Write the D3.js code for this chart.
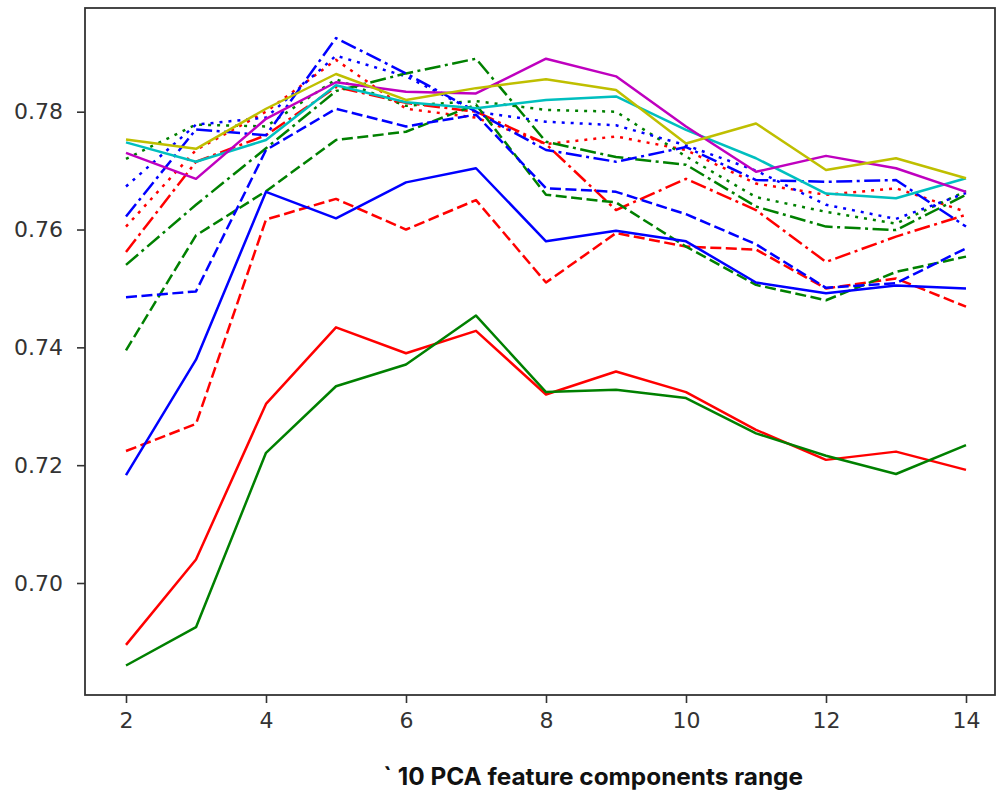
<!DOCTYPE html>
<html>
<head>
<meta charset="utf-8">
<script src="https://cdn.jsdelivr.net/npm/d3@7"></script>
<style>
  body { margin: 0; background: #fff; }
  svg { display: block; }
  .tick text { font-family: "DejaVu Sans", sans-serif; font-size: 22px; fill: #333; }
  .tick line { stroke: #333; stroke-width: 1.6; }
  .xtitle { font-family: Inter, Lato, sans-serif; font-weight: bold; font-size: 24px; fill: #111; }
</style>
</head>
<body>
<svg width="999" height="793"></svg>
<script>
// PCA components on x, one accuracy series per colour / line style
const components = [2, 3, 4, 5, 6, 7, 8, 9, 10, 11, 12, 13, 14];
const xTicks = [2, 4, 6, 8, 10, 12, 14];
const yTicks = [0.70, 0.72, 0.74, 0.76, 0.78];

const redSolid     = [0.6895, 0.7040, 0.7304, 0.7434, 0.7390, 0.7428, 0.7320, 0.7359, 0.7324, 0.7260, 0.7209, 0.7223, 0.7192];
const greenSolid   = [0.6860, 0.6925, 0.7221, 0.7334, 0.7371, 0.7454, 0.7324, 0.7328, 0.7314, 0.7254, 0.7216, 0.7185, 0.7234];
const blueSolid    = [0.7183, 0.7379, 0.7664, 0.7619, 0.7680, 0.7704, 0.7580, 0.7598, 0.7580, 0.7510, 0.7492, 0.7505, 0.7500];
const cyanSolid    = [0.7748, 0.7715, 0.7752, 0.7845, 0.7816, 0.7806, 0.7820, 0.7826, 0.7769, 0.7721, 0.7661, 0.7653, 0.7687];
const magentaSolid = [0.7730, 0.7686, 0.7788, 0.7850, 0.7834, 0.7831, 0.7890, 0.7860, 0.7775, 0.7698, 0.7725, 0.7704, 0.7664];
const yellowSolid  = [0.7753, 0.7737, 0.7805, 0.7864, 0.7820, 0.7840, 0.7855, 0.7837, 0.7746, 0.7780, 0.7701, 0.7721, 0.7687];

const redDashed    = [0.7224, 0.7270, 0.7617, 0.7652, 0.7600, 0.7650, 0.7510, 0.7594, 0.7571, 0.7566, 0.7500, 0.7517, 0.7469];
const greenDashed  = [0.7395, 0.7590, 0.7665, 0.7752, 0.7766, 0.7812, 0.7659, 0.7646, 0.7571, 0.7506, 0.7480, 0.7528, 0.7554];
const blueDashed   = [0.7485, 0.7495, 0.7735, 0.7805, 0.7775, 0.7795, 0.7670, 0.7664, 0.7626, 0.7575, 0.7501, 0.7509, 0.7568];

const redDashDot   = [0.7562, 0.7715, 0.7760, 0.7842, 0.7815, 0.7800, 0.7745, 0.7633, 0.7686, 0.7633, 0.7545, 0.7588, 0.7625];
const greenDashDot = [0.7540, 0.7642, 0.7738, 0.7835, 0.7865, 0.7890, 0.7749, 0.7723, 0.7710, 0.7639, 0.7605, 0.7599, 0.7659];
const blueDashDot  = [0.7622, 0.7770, 0.7760, 0.7925, 0.7865, 0.7800, 0.7735, 0.7715, 0.7740, 0.7684, 0.7681, 0.7684, 0.7605];

const redDotted    = [0.7605, 0.7735, 0.7800, 0.7888, 0.7805, 0.7790, 0.7745, 0.7758, 0.7735, 0.7678, 0.7659, 0.7670, 0.7630];
const greenDotted  = [0.7720, 0.7778, 0.7775, 0.7855, 0.7810, 0.7818, 0.7803, 0.7800, 0.7724, 0.7655, 0.7630, 0.7610, 0.7665];
const blueDotted   = [0.7673, 0.7778, 0.7790, 0.7895, 0.7860, 0.7800, 0.7783, 0.7777, 0.7743, 0.7700, 0.7642, 0.7618, 0.7662];

const colors = { r: '#ff0000', g: '#008000', b: '#0000ff', c: '#00bfbf', m: '#bf00bf', y: '#bfbf00' };
const dashes = { solid: null, dashed: '11,4.5', dashdot: '16,4.5,3,4.5', dotted: '3,6' };

// drawing order: dotted first, solid on top
const series = [
    [redDotted, 'r', 'dotted'], [greenDotted, 'g', 'dotted'], [blueDotted, 'b', 'dotted'],
    [redDashDot, 'r', 'dashdot'], [greenDashDot, 'g', 'dashdot'], [blueDashDot, 'b', 'dashdot'],
    [redDashed, 'r', 'dashed'], [greenDashed, 'g', 'dashed'], [blueDashed, 'b', 'dashed'],
    [redSolid, 'r', 'solid'], [greenSolid, 'g', 'solid'], [blueSolid, 'b', 'solid'],
    [cyanSolid, 'c', 'solid'], [magentaSolid, 'm', 'solid'], [yellowSolid, 'y', 'solid']
];

var svg = d3.select('svg');

var frame = { left: 85, right: 995, top: 8, bottom: 695 };

var x = d3.scaleLinear().domain([2, 14]).range([126, 966]);
var y = d3.scaleLinear().domain([0.70, 0.78]).range([583, 111.7]);

var line = d3.line()
    .x((d, i) => x(components[i]))
    .y(d => y(d));

var plot = svg.append('g');

series.forEach(s => {
    plot.append('path')
        .datum(s[0])
        .attr('d', line)
        .attr('fill', 'none')
        .attr('stroke', colors[s[1]])
        .attr('stroke-width', 2.5)
        .attr('stroke-linejoin', 'round')
        .attr('stroke-dasharray', dashes[s[2]]);
});

// frame
svg.append('rect')
    .attr('x', frame.left)
    .attr('y', frame.top)
    .attr('width', frame.right - frame.left)
    .attr('height', frame.bottom - frame.top)
    .attr('fill', 'none')
    .attr('stroke', '#333')
    .attr('stroke-width', 1.8);

var xAxis = svg.append('g')
    .attr('transform', `translate(0,${frame.bottom})`)
    .call(d3.axisBottom(x).tickValues(xTicks).tickSize(8).tickPadding(9).tickFormat(d3.format('d')));
xAxis.select('.domain').remove();

var yAxis = svg.append('g')
    .attr('transform', `translate(${frame.left},0)`)
    .call(d3.axisLeft(y).tickValues(yTicks).tickSize(8).tickPadding(14).tickFormat(d3.format('.2f')));
yAxis.select('.domain').remove();

svg.append('text')
    .attr('class', 'xtitle')
    .attr('x', 593)
    .attr('y', 785)
    .attr('text-anchor', 'middle')
    .attr('textLength', 420)
    .attr('lengthAdjust', 'spacingAndGlyphs')
    .text('` 10 PCA feature components range');
</script>
</body>
</html>
